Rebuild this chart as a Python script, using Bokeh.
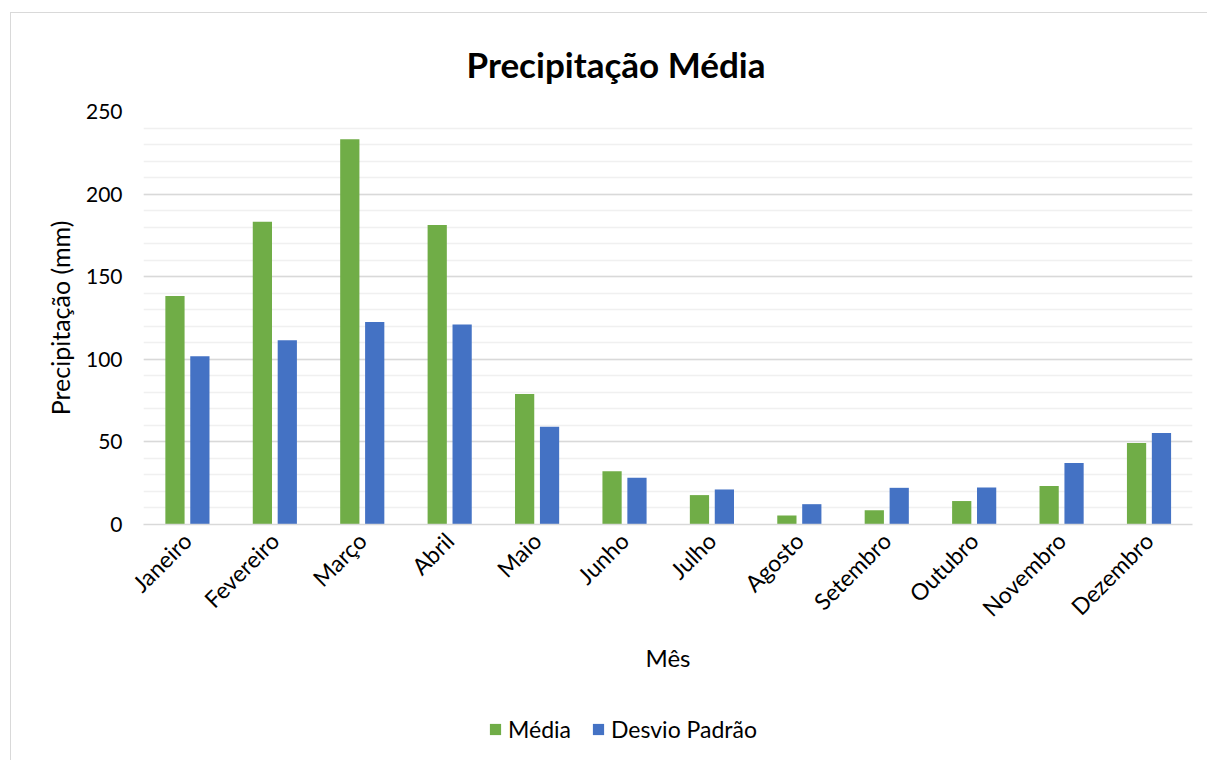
from bokeh.plotting import figure
from bokeh.layouts import column
from bokeh.models import FactorRange, Range1d, SingleIntervalTicker, Legend, LegendItem
from bokeh.transform import dodge
from bokeh.embed import file_html
from bokeh.resources import INLINE
from bokeh.models import ColumnDataSource
import math

meses = ["Janeiro", "Fevereiro", "Março", "Abril", "Maio", "Junho", "Julho",
         "Agosto", "Setembro", "Outubro", "Novembro", "Dezembro"]
media = [138.3, 183.2, 233.2, 181.3, 79.0, 32.3, 17.8, 5.5, 8.7, 14.2, 23.3, 49.3]
desvio = [101.8, 111.5, 122.6, 121.0, 59.2, 28.3, 21.2, 12.3, 22.2, 22.4, 37.2, 55.4]
series_names = ["Média", "Desvio Padrão"]

FONT = "Lato"
GREEN = "#70AD47"
BLUE = "#4472C4"

src = ColumnDataSource(dict(mes=meses, media=media, desvio=desvio))

p = figure(x_range=FactorRange(*meses, range_padding=0), y_range=Range1d(0, 250),
           frame_width=1049, frame_height=413,
           min_border_left=132, min_border_right=16, min_border_top=98, min_border_bottom=176,
           output_backend="svg", toolbar_location=None,
           title="Precipitação Média")

p.vbar(x=dodge("mes", -0.14, range=p.x_range), top="media", width=0.22,
       source=src, fill_color=GREEN, line_color=None)
p.vbar(x=dodge("mes", 0.145, range=p.x_range), top="desvio", width=0.22,
       source=src, fill_color=BLUE, line_color=None)

p.title.align = "left"
p.title.text_font = FONT
p.title.text_font_size = "35px"
p.title.text_font_style = "bold"
p.title.text_color = "#000000"
p.title.offset = 323
p.title.standoff = 53

p.outline_line_color = None
p.background_fill_color = "white"
p.border_fill_color = "white"

p.yaxis.ticker = SingleIntervalTicker(interval=50, num_minor_ticks=5)
p.ygrid.grid_line_color = "#d9d9d9"
p.ygrid.grid_line_width = 1.5
p.ygrid.minor_grid_line_color = "#f0f0f0"
p.ygrid.minor_grid_line_width = 1.5
p.xgrid.grid_line_color = None

p.yaxis.axis_line_color = None
p.yaxis.major_tick_line_color = None
p.yaxis.minor_tick_line_color = None
p.yaxis.major_label_standoff = 15
p.yaxis.major_label_text_font = FONT
p.yaxis.major_label_text_font_size = "21px"
p.yaxis.major_label_text_color = "#000000"
p.yaxis.axis_label = "Precipitação (mm)"
p.yaxis.axis_label_text_font = FONT
p.yaxis.axis_label_text_font_size = "25px"
p.yaxis.axis_label_text_font_style = "normal"
p.yaxis.axis_label_text_color = "#000000"
p.yaxis.axis_label_standoff = 8

p.xaxis.axis_line_color = "#d9d9d9"
p.xaxis.axis_line_width = 1.5
p.xaxis.major_tick_line_color = None
p.xaxis.minor_tick_line_color = None
p.xaxis.major_label_orientation = math.pi / 4
p.xaxis.major_label_standoff = 6
p.xaxis.major_label_text_font = FONT
p.xaxis.major_label_text_font_size = "23px"
p.xaxis.major_label_text_color = "#000000"
p.xaxis.axis_label = "Mês"
p.xaxis.axis_label_text_font = FONT
p.xaxis.axis_label_text_font_size = "24px"
p.xaxis.axis_label_text_font_style = "normal"
p.xaxis.axis_label_text_color = "#000000"
p.xaxis.axis_label_standoff = 8

# legend strip below the chart (dummy off-range glyphs only feed the legend keys)
leg = figure(width=1197, height=60, x_range=Range1d(0, 1), y_range=Range1d(0, 1),
             min_border=0, output_backend="svg", toolbar_location=None)
leg.axis.visible = False
leg.grid.visible = False
leg.outline_line_color = None
g1 = leg.quad(left=[-5], right=[-4], bottom=[-5], top=[-4], fill_color=GREEN, line_color=None)
g2 = leg.quad(left=[-5], right=[-4], bottom=[-5], top=[-4], fill_color=BLUE, line_color=None)
legend = Legend(items=[LegendItem(label=series_names[0], renderers=[g1]),
                       LegendItem(label=series_names[1], renderers=[g2])],
                orientation="horizontal", location=(345, 17),
                label_text_font=FONT, label_text_font_size="23px",
                label_text_color="#000000",
                label_standoff=6, glyph_width=14, glyph_height=14, spacing=20,
                padding=0, margin=0,
                border_line_color=None, background_fill_alpha=0)
leg.add_layout(legend, "center")

lay = column(p, leg, spacing=0)
lay.styles = {"margin-left": "10px", "margin-top": "12px",
              "border-left": "1px solid #d9d9d9", "border-top": "1px solid #d9d9d9"}

open("out.html", "w").write(file_html(lay, INLINE))
